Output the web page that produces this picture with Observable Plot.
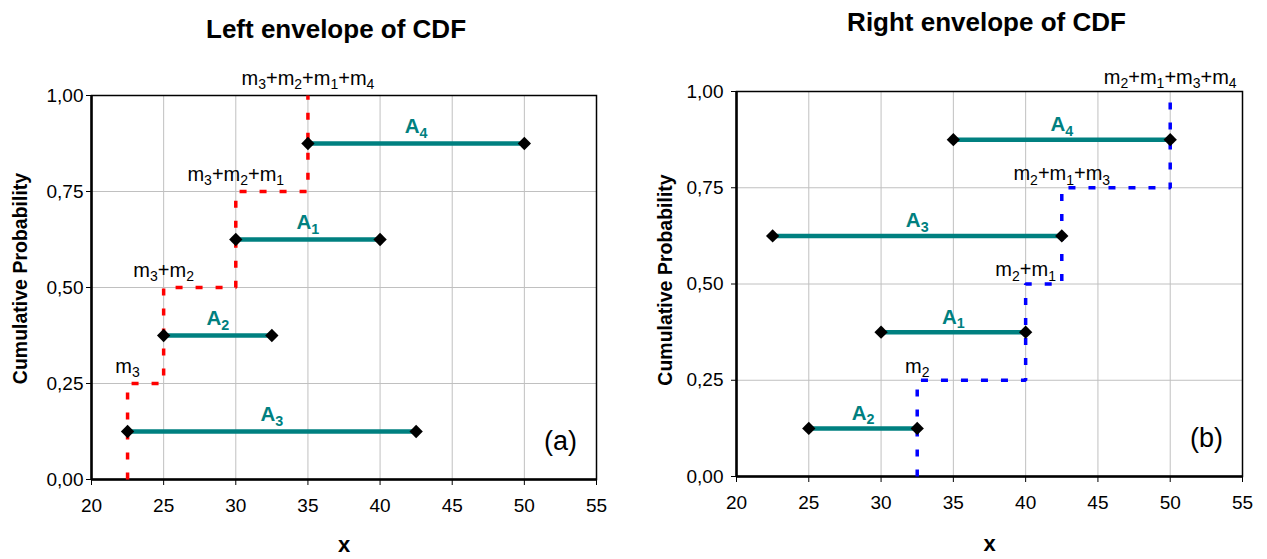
<!DOCTYPE html>
<html>
<head>
<meta charset="utf-8">
<script src="https://cdn.jsdelivr.net/npm/d3@7"></script>
<script src="https://cdn.jsdelivr.net/npm/@observablehq/plot@0.6"></script>
<style>
  html, body { margin: 0; padding: 0; background: #fff; }
  #page { position: relative; width: 1267px; height: 559px; overflow: hidden; background: #fff; }
  .panel { position: absolute; top: 0; }
  .panel svg { overflow: visible; }
</style>
</head>
<body>
<div id="page">
  <div class="panel" id="left" style="left:0px"></div>
  <div class="panel" id="right" style="left:633px"></div>
</div>
<script>
// ---------- shared axis data ----------
const xTicks = [20, 25, 30, 35, 40, 45, 50, 55];
const yTicks = [0, 0.25, 0.5, 0.75, 1];

// ---------- (a) Left envelope of CDF ----------
const leftTitle = "Left envelope of CDF";
const leftNames = ["A3", "A2", "A1", "A4"];
const leftLo = [22.5, 25, 30, 35];
const leftHi = [42.5, 32.5, 40, 50];
const leftLevel = [0.125, 0.375, 0.625, 0.875];
const leftEnvX = [22.5, 25, 30, 35, 35];
const leftEnvY = [0, 0.25, 0.5, 0.75, 1];
const leftEnvLabels = ["m3", "m3+m2", "m3+m2+m1", "m3+m2+m1+m4"];

// ---------- (b) Right envelope of CDF ----------
const rightTitle = "Right envelope of CDF";
const rightNames = ["A2", "A1", "A3", "A4"];
const rightLo = [25, 30, 22.5, 35];
const rightHi = [32.5, 40, 42.5, 50];
const rightLevel = [0.125, 0.375, 0.625, 0.875];
const rightEnvX = [32.5, 40, 42.5, 50, 50];
const rightEnvY = [0, 0.25, 0.5, 0.75, 1];
const rightEnvLabels = ["m2", "m2+m1", "m2+m1+m3", "m2+m1+m3+m4"];

const FONT = '"Liberation Sans", Arial, Helvetica, sans-serif';
const TEAL = "#008080";
const M_FS = 20;
const A_FS = 20.5;
const fmtY = d => d.toFixed(2).replace(".", ",");

// turn the digits of "m3+m2" / "A4" labels into subscripts (text stays real text)
function subscriptify(root) {
  root.querySelectorAll("text").forEach(t => {
    const s = t.textContent;
    let fs;
    if (/^m\d(\+m\d)*$/.test(s)) fs = M_FS;
    else if (/^A\d$/.test(s)) fs = A_FS;
    else return;
    t.textContent = "";
    const shift = fs * 0.22;
    let inSub = false, buf = "";
    const flush = (sub) => {
      if (!buf) return;
      const ts = document.createElementNS("http://www.w3.org/2000/svg", "tspan");
      ts.textContent = buf;
      if (sub) {
        ts.setAttribute("font-size", (fs * 0.7).toFixed(1) + "px");
        ts.setAttribute("dy", shift.toFixed(1));
      } else if (t.childNodes.length) {
        ts.setAttribute("dy", (-shift).toFixed(1));
      }
      t.appendChild(ts);
      buf = "";
    };
    for (const ch of s) {
      const d = /[0-9]/.test(ch);
      if (d !== inSub) { flush(inSub); inSub = d; }
      buf += ch;
    }
    flush(inSub);
  });
}

function panel(o) {
  const segs = o.names.map((n, i) => ({name: n, lo: o.lo[i], hi: o.hi[i], level: o.level[i], mid: (o.lo[i] + o.hi[i]) / 2}));
  const ends = segs.flatMap(s => [{x: s.lo, y: s.level}, {x: s.hi, y: s.level}]);
  const env = o.envX.map((x, i) => ({x, y: o.envY[i]}));
  const envLab = o.envLabels.map((t, i) => ({t, x: o.envX[i], y: o.envY[i + 1]}));
  return Plot.plot({
    width: o.width,
    height: 559,
    marginLeft: o.ml, marginRight: o.mr, marginTop: o.mt, marginBottom: o.mb,
    x: {domain: [20, 55]},
    y: {domain: [0, 1]},
    style: {fontFamily: FONT, fontSize: "19px", color: "black", background: "transparent", overflow: "visible"},
    marks: [
      Plot.gridX(xTicks, {stroke: "#c0c0c0", strokeOpacity: 1, strokeWidth: 1}),
      Plot.gridY(yTicks, {stroke: "#c0c0c0", strokeOpacity: 1, strokeWidth: 1}),
      Plot.frame({stroke: "black", strokeWidth: 1.5}),
      Plot.ruleX([20], {stroke: "black", strokeWidth: 2.5}),
      Plot.ruleY([0], {stroke: "black", strokeWidth: 2.5}),
      Plot.axisX({ticks: xTicks, tickSize: 6, tickPadding: 13, label: null, tickFormat: d => String(d), fontSize: 19}),
      Plot.axisY({ticks: yTicks, tickSize: 5, tickPadding: o.yPad, label: null, tickFormat: fmtY, fontSize: 19}),
      Plot.line(env, {x: "x", y: "y", curve: "step-before", stroke: o.color, strokeWidth: 3.5, strokeDasharray: "7,13", strokeLinecap: "butt", strokeLinejoin: "miter"}),
      Plot.ruleY(segs, {x1: "lo", x2: "hi", y: "level", stroke: TEAL, strokeWidth: 4.5}),
      Plot.dot(ends, {x: "x", y: "y", symbol: "diamond2", r: 6, fill: "black", stroke: "none"}),
      Plot.text(envLab, {x: "x", y: "y", text: "t", dy: o.mDy, fontSize: M_FS, fill: "black"}),
      Plot.text(segs, {x: "mid", y: "level", text: "name", dy: o.aDy, fontSize: A_FS, fontWeight: "bold", fill: TEAL}),
      Plot.text([o.tag], {frameAnchor: "bottom-right", dx: -36, dy: -38, fontSize: 27, textAnchor: "middle", lineAnchor: "middle"}),
      Plot.text([o.title], {frameAnchor: "top", dx: o.tDx, dy: o.tDy, fontSize: 26, fontWeight: "bold", textAnchor: "middle", lineAnchor: "middle"}),
      Plot.text(["x"], {frameAnchor: "bottom", dy: o.xDy, fontSize: 22, fontWeight: "bold", textAnchor: "middle", lineAnchor: "middle"}),
      Plot.text(["Cumulative Probability"], {frameAnchor: "left", dx: -71, dy: o.yDy, rotate: -90, fontSize: 19.5, fontWeight: "bold", textAnchor: "middle", lineAnchor: "middle"})
    ]
  });
}

document.getElementById("left").appendChild(panel({
  width: 633, ml: 91, mr: 37, mt: 95, mb: 80,
  names: leftNames, lo: leftLo, hi: leftHi, level: leftLevel,
  envX: leftEnvX, envY: leftEnvY, envLabels: leftEnvLabels,
  color: "#ff0000", tag: "(a)", title: leftTitle,
  tDx: -8, tDy: -66, mDy: -17, aDy: -17, xDy: 65, yDy: -9, yPad: 3
}));

document.getElementById("right").appendChild(panel({
  width: 634, ml: 103, mr: 25, mt: 91, mb: 83,
  names: rightNames, lo: rightLo, hi: rightHi, level: rightLevel,
  envX: rightEnvX, envY: rightEnvY, envLabels: rightEnvLabels,
  color: "#0000ff", tag: "(b)", title: rightTitle,
  tDx: -3, tDy: -69, mDy: -14, aDy: -15, xDy: 67, yDy: -4, yPad: 8
}));

subscriptify(document.getElementById("page"));
</script>
</body>
</html>
